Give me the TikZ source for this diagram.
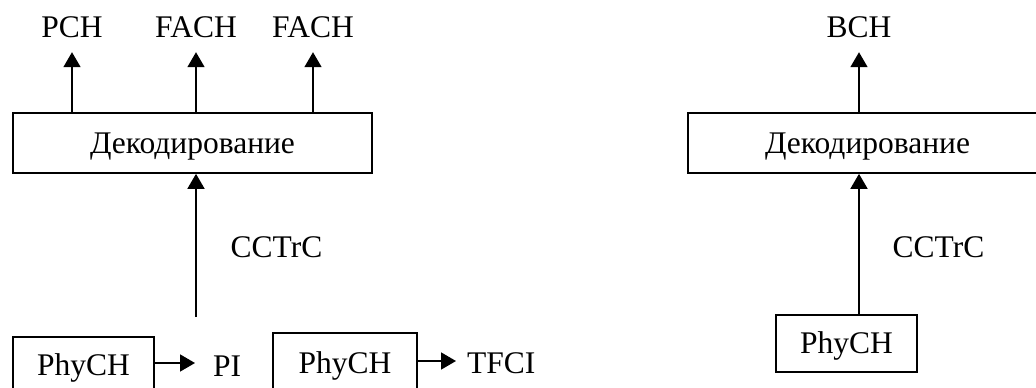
\documentclass[tikz,border=0pt]{standalone}
\usepackage{fontspec}
\setmainfont{Liberation Serif}
\usetikzlibrary{arrows.meta}
\tikzset{
  lw/.style={line width=1.7pt},
  box/.style={draw, lw, rectangle, inner sep=0pt, text height=20pt, text depth=0pt, font=\fontsize{31.5}{38}\selectfont},
  lowbox/.style={box, text height=25pt},
  lbl/.style={inner sep=0pt, text height=20pt, text depth=0pt, anchor=base, font=\fontsize{31.5}{38}\selectfont},
  arr/.style={lw, -{Triangle[length=15pt,width=17pt]}},
}
\begin{document}
\begin{tikzpicture}[x=1pt,y=-1pt]
\useasboundingbox (0,0) rectangle (1036,388);
\clip (0,0) rectangle (1036,388);
% left part
\node[box, minimum width=359pt, minimum height=60pt] (dec1) at (192.5,143) {Декодирование};
\node[lbl] (pch) at (72,37) {PCH};
\node[lbl] (fach1) at (196,37) {FACH};
\node[lbl] (fach2) at (313,37) {FACH};
\draw[arr, shorten >=15pt] (dec1.north -| pch) -- (pch.south);
\draw[arr, shorten >=15pt] (dec1.north -| fach1) -- (fach1.south);
\draw[arr, shorten >=15pt] (dec1.north -| fach2) -- (fach2.south);
\coordinate (cin) at (196,317);
\draw[arr] (cin) -- (cin |- dec1.south);
\node[lbl] (cc1) at (276.5,257) {CCTrC};
\node[lowbox, minimum width=141pt, minimum height=52pt] (b1) at (83.5,363) {PhyCH};
\node[lbl, anchor=base west, inner xsep=18pt] (pi) at (195,376) {PI};
\draw[arr] (b1.east) -- (b1.east -| pi.west);
\node[lowbox, minimum width=144pt, minimum height=56pt] (b2) at (345,361) {PhyCH};
\node[lbl, anchor=base west, inner xsep=11pt] (tfci) at (456,373) {TFCI};
\draw[arr] (b2.east) -- (b2.east -| tfci.west);
% right part
\node[box, minimum width=359pt, minimum height=60pt] (dec2) at (867.5,143) {Декодирование};
\node[lbl] (bch) at (859,37) {BCH};
\draw[arr, shorten >=15pt] (dec2.north -| bch) -- (bch.south);
\node[box, minimum width=141pt, minimum height=57pt] (rph) at (846.5,343.5) {PhyCH};
\coordinate (rin) at (859,315);
\draw[arr] (rin) -- (rin |- dec2.south);
\node[lbl] (cc2) at (938.5,257) {CCTrC};
\end{tikzpicture}
\end{document}
